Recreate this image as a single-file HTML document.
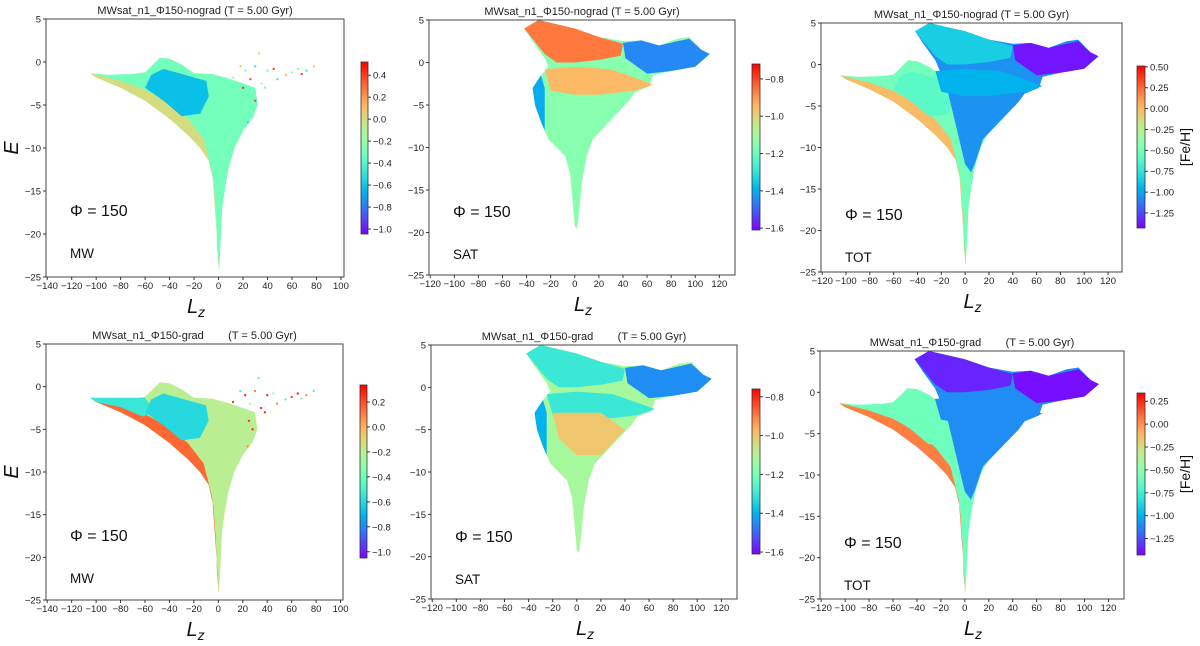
<!DOCTYPE html>
<html><head><meta charset="utf-8">
<style>
html,body{margin:0;padding:0;background:#fff;}
svg{display:block;font-family:"Liberation Sans","DejaVu Sans",sans-serif;}
</style></head>
<body>
<svg id="fig" width="1200" height="646" viewBox="0 0 1200 646" xmlns="http://www.w3.org/2000/svg"></svg>
<script>
// ---------- data (Lz, E) outlines ----------
const mwOutline = [[-105,-1.3],[-90,-1.5],[-70,-1.4],[-60,-1.2],[-55,-0.5],[-48,0.5],[-40,0.4],[-30,-0.3],[-20,-1.3],[-5,-1.4],[10,-2],[22,-2.6],[30,-3],[32,-5],[28,-6.5],[20,-8],[13,-10],[8,-12.5],[5,-15],[3,-17],[2,-20],[0.5,-24.3],[-1,-22],[-2,-18],[-4,-14],[-8,-11.5],[-15,-10],[-25,-8.5],[-40,-6.6],[-60,-4.5],[-80,-3],[-100,-1.8]];
const mwBlue = [[-55,-1.5],[-45,-0.8],[-35,-1.2],[-20,-1.8],[-10,-2.2],[-8,-4],[-15,-6],[-30,-6.3],[-45,-4.5],[-60,-3]];
const mwBand = [[-105,-1.3],[-80,-2.2],[-60,-3.2],[-40,-4.8],[-25,-6.6],[-12,-9],[-5,-13],[-2.5,-18],[0.5,-24.3],[-1,-22],[-2,-18],[-4,-14],[-8,-11.5],[-15,-10],[-25,-8.5],[-40,-6.6],[-60,-4.5],[-80,-3],[-100,-1.8]];
const mwWing = [[-105,-1.3],[-60,-1.3],[-52,-3],[-62,-3.5],[-80,-2.4],[-100,-1.8]];
const mwDots = [[22,-1],[26,-2],[30,-0.5],[33,1],[35,-2.5],[40,-1],[45,-0.8],[48,-2],[55,-1.5],[60,-1.2],[65,-0.8],[68,-1.4],[72,-1],[78,-0.5],[25,-4],[28,-5],[30,-4.5],[24,-7],[18,-0.5],[12,-1.8],[38,-3],[20,-3]];
const satOutline = [[-42,4],[-30,5],[-15,4.5],[0,4],[20,3],[40,2.5],[55,2.6],[70,2],[85,2.8],[95,3],[105,1.5],[112,1],[100,-0.5],[80,-1],[65,-1.5],[62,-2.8],[50,-3.5],[45,-4.5],[35,-6],[25,-7.5],[15,-9],[10,-11],[6,-14],[4,-17],[2,-19.5],[0,-19.3],[-2,-16],[-4,-13],[-8,-11],[-15,-10],[-22,-9],[-28,-7],[-33,-5],[-35,-3],[-28,-1.5],[-22,-0.5],[-25,0.5],[-35,2.5]];
const satTop = [[-42,4],[-30,5],[-15,4.5],[0,4],[20,3],[40,2.2],[38,0.8],[20,0.3],[0,0],[-15,0],[-25,1]];
const satRight = [[40,2.3],[55,2.6],[70,2],[85,2.5],[95,2.8],[105,1.5],[112,1],[100,-0.5],[80,-1],[60,-1.3],[42,0.5]];
const satMid = [[-25,-0.8],[0,-0.5],[30,-0.8],[50,-1.8],[65,-2.6],[50,-3.3],[20,-3.8],[0,-3.8],[-20,-3.3]];
const satLow = [[-20,-3],[20,-3],[40,-5],[20,-8],[0,-8],[-15,-6]];
const satEdge = [[-35,-3],[-28,-1.5],[-25,-3],[-25,-8],[-22,-9],[-28,-7],[-33,-5]];
const totSat = [[-42,4],[-30,5],[-15,4.5],[0,4],[20,3],[40,2.5],[55,2.6],[70,2],[85,2.8],[95,3],[105,1.5],[112,1],[100,-0.5],[80,-1],[65,-1.5],[62,-2.8],[50,-3.5],[45,-4.5],[35,-6],[25,-7.5],[15,-9],[8,-12],[5,-13],[0,-12],[-5,-9],[-10,-6],[-15,-3],[-22,-0.5],[-25,0.5],[-35,2.5]];

// ---------- [Fe/H] values per panel layer ----------
const mwNogradVals = [-0.3, 0.0, -0.62];
const mwGradVals   = [-0.2, 0.15, -0.6, -0.55];
const satNogradVals = [-1.15, -0.86, -1.45, -0.95, -1.4];
const satGradVals   = [-1.12, -1.3, -1.45, -1.3, -1.0, -1.4];
const totNogradVals = [-0.5, 0.0, -0.6, -1.05, -0.85, -1.38, -0.95];
const totGradVals   = [-0.6, 0.05, -0.6, -1.1, -1.35, -1.4, -1.1];

const xTicksA = [-140,-120,-100,-80,-60,-40,-20,0,20,40,60,80,100];
const xTicksB = [-120,-100,-80,-60,-40,-20,0,20,40,60,80,100,120];
const yTicks = [-25,-20,-15,-10,-5,0,5];
const cbTicks1 = [0.4,0.2,0.0,-0.2,-0.4,-0.6,-0.8,-1.0];
const cbTicks2 = [-0.8,-1.0,-1.2,-1.4,-1.6];
const cbTicks3 = [0.50,0.25,0.00,-0.25,-0.50,-0.75,-1.00,-1.25];
const cbTicks4 = [0.2,0.0,-0.2,-0.4,-0.6,-0.8,-1.0];
const cbTicks6 = [0.25,0.00,-0.25,-0.50,-0.75,-1.00,-1.25];

const NS = "http://www.w3.org/2000/svg";
const fig = document.getElementById('fig');
function el(tag, attrs, parent){const e=document.createElementNS(NS,tag);for(const k in attrs)e.setAttribute(k,attrs[k]);(parent||fig).appendChild(e);return e;}
function rainbow(t){t=Math.max(0,Math.min(1,t));
 const r=Math.min(1,Math.abs(2*t-0.5)),g=Math.sin(Math.PI*t),b=Math.cos(Math.PI*t/2);
 return `rgb(${Math.round(r*255)},${Math.round(g*255)},${Math.round(b*255)})`;}
function fmt(v,d){const s=v.toFixed(d);return s.startsWith('-')?'\u2212'+s.slice(1):s;}

const panels = [
 {name:'mw-nograd',title:'MWsat_n1_\u03A6150-nograd (T = 5.00 Gyr)',box:[46,344,19,277],xlim:[-141,102.5],xt:xTicksA,cb:[361,368,62,234],cr:[-1.045,0.52],cbt:cbTicks1,cbd:1,label:'MW',ylab:true,fe:false,kind:'mw',vals:mwNogradVals},
 {name:'sat-nograd',title:'MWsat_n1_\u03A6150-nograd (T = 5.00 Gyr)',box:[429,735,20,275],xlim:[-121,133],xt:xTicksB,cb:[752,760,64,230],cr:[-1.61,-0.72],cbt:cbTicks2,cbd:1,label:'SAT',ylab:false,fe:false,kind:'sat',vals:satNogradVals},
 {name:'tot-nograd',title:'MWsat_n1_\u03A6150-nograd (T = 5.00 Gyr)',box:[821,1122,23,272],xlim:[-121,131.7],xt:xTicksB,cb:[1137,1145,66,228],cr:[-1.43,0.51],cbt:cbTicks3,cbd:2,label:'TOT',ylab:false,fe:true,kind:'tot',vals:totNogradVals},
 {name:'mw-grad',title:'MWsat_n1_\u03A6150-grad        (T = 5.00 Gyr)',box:[46,343,344,600],xlim:[-141,102],xt:xTicksA,cb:[360,367,385,558],cr:[-1.05,0.336],cbt:cbTicks4,cbd:1,label:'MW',ylab:true,fe:false,kind:'mwg',vals:mwGradVals},
 {name:'sat-grad',title:'MWsat_n1_\u03A6150-grad        (T = 5.00 Gyr)',box:[431,737,345,599],xlim:[-121,133],xt:xTicksB,cb:[752,760,389,554],cr:[-1.61,-0.76],cbt:cbTicks2,cbd:1,label:'SAT',ylab:false,fe:false,kind:'satg',vals:satGradVals},
 {name:'tot-grad',title:'MWsat_n1_\u03A6150-grad        (T = 5.00 Gyr)',box:[820,1124,351,599],xlim:[-121,133],xt:xTicksB,cb:[1137,1145,393,555],cr:[-1.43,0.34],cbt:cbTicks6,cbd:2,label:'TOT',ylab:false,fe:true,kind:'totg',vals:totGradVals}
];

let gid=0;
panels.forEach(p=>{
 const [x0,x1,y0,y1]=p.box;
 const g=el('g',{});
 
 
 const sx=v=>x0+(v-p.xlim[0])/(p.xlim[1]-p.xlim[0])*(x1-x0);
 const sy=v=>y1-(v+25)/30*(y1-y0);
 const col=v=>rainbow((v-p.cr[0])/(p.cr[1]-p.cr[0]));
 const poly=(pts,v,nm)=>{const e=el('polygon',{points:pts.map(q=>sx(q[0]).toFixed(1)+','+sy(q[1]).toFixed(1)).join(' '),fill:col(v)},g);
   };
 const dots=(arr,vs)=>arr.forEach((d,i)=>{const e=el('rect',{x:sx(d[0])-1,y:sy(d[1])-1,width:2,height:2,fill:col(vs[i%vs.length])},g);
   });
 const v=p.vals;
 if(p.kind==='mw'){poly(mwOutline,v[0],'mw-distribution');poly(mwBand,v[1],'mw-lower-band');poly(mwBlue,v[2],'mw-blue-region');dots(mwDots,[-0.3,0.4,-0.5,0.1,-0.2]);}
 if(p.kind==='mwg'){poly(mwOutline,v[0],'mw-distribution');poly(mwBand,v[1],'mw-lower-band');poly(mwWing,v[3],'mw-wing');poly(mwBlue,v[2],'mw-blue-region');dots(mwDots,[0.3,-0.3,0.1,-0.5,0.25]);}
 if(p.kind==='sat'||p.kind==='satg'){poly(satOutline,v[0],'sat-distribution');poly(satTop,v[1],'sat-top-arm');poly(satRight,v[2],'sat-right-lobe');poly(satMid,v[3],'sat-mid-band');
   if(p.kind==='satg'){poly(satLow,v[4],'sat-low-region');poly(satEdge,v[5],'sat-left-edge');} else poly(satEdge,v[4],'sat-left-edge');}
 if(p.kind==='tot'||p.kind==='totg'){poly(mwOutline,v[0],'mw-distribution');poly(mwBand,v[1],'mw-lower-band');poly(mwBlue,v[2],'mw-blue-region');
   poly(totSat,v[3],'sat-distribution');poly(satTop,v[4],'sat-top-arm');poly(satRight,v[5],'sat-right-lobe');poly(satMid,v[6],'sat-mid-band');}
 const fr=el('rect',{x:x0,y:y0,width:x1-x0,height:y1-y0,fill:'none',stroke:'#444','stroke-width':1},g);
 
 p.xt.forEach(t=>{const X=sx(t);el('line',{x1:X,x2:X,y1:y1,y2:y1+3,stroke:'#333'},g);
   const tx=el('text',{x:X,y:y1+12,'font-size':9.5,'text-anchor':'middle',fill:'#222'},g);tx.textContent=fmt(t,0);
   });
 yTicks.forEach(t=>{const Y=sy(t);el('line',{x1:x0-3,x2:x0,y1:Y,y2:Y,stroke:'#333'},g);
   const tx=el('text',{x:x0-5,y:Y+3.5,'font-size':9.5,'text-anchor':'end',fill:'#222'},g);tx.textContent=fmt(t,0);
   });
 const ti=el('text',{x:(x0+x1)/2,y:y0-5,'font-size':11,'text-anchor':'middle',fill:'#222','xml:space':'preserve'},g);ti.textContent=p.title;
 ti.style.whiteSpace='pre';
 const xl=el('text',{x:(x0+x1)/2-8,y:y1+36,'font-size':20,'font-style':'italic',fill:'#111'},g);xl.innerHTML='L<tspan font-size="14" dy="4">z</tspan>';
 
 if(p.ylab){const yl=el('text',{x:18,y:(y0+y1)/2,'font-size':20,'font-style':'italic','text-anchor':'middle',fill:'#111',transform:`rotate(-90 18 ${(y0+y1)/2})`},g);yl.textContent='E';
   }
 const phi=el('text',{x:x0+24,y:y0+197,'font-size':16,fill:'#111'},g);phi.textContent='\u03A6 = 150';
 
 const lb=el('text',{x:x0+24,y:y0+239,'font-size':13.5,fill:'#111'},g);lb.textContent=p.label;
 
 const [c0,c1,cy0,cy1]=p.cb; const id='cg'+(gid++);
 const lg=el('linearGradient',{id:id,x1:0,y1:1,x2:0,y2:0},el('defs',{},g));
 for(let i=0;i<=20;i++)el('stop',{offset:i/20,'stop-color':rainbow(i/20)},lg);
 const cbr=el('rect',{x:c0,y:cy0,width:c1-c0,height:cy1-cy0,fill:`url(#${id})`,stroke:'#333','stroke-width':0.8},g);
 
 p.cbt.forEach(t=>{const Y=cy1-(t-p.cr[0])/(p.cr[1]-p.cr[0])*(cy1-cy0);el('line',{x1:c1,x2:c1+3,y1:Y,y2:Y,stroke:'#333'},g);
   const tx=el('text',{x:c1+5,y:Y+3.5,'font-size':9.5,fill:'#222'},g);tx.textContent=fmt(t,p.cbd);
   });
 if(p.fe){const cy=(cy0+cy1)/2;const fe=el('text',{x:1190,y:cy,'font-size':14,'text-anchor':'middle',fill:'#111',transform:`rotate(-90 1190 ${cy})`},g);fe.textContent='[Fe/H]';
   }
});
</script>
</body></html>
